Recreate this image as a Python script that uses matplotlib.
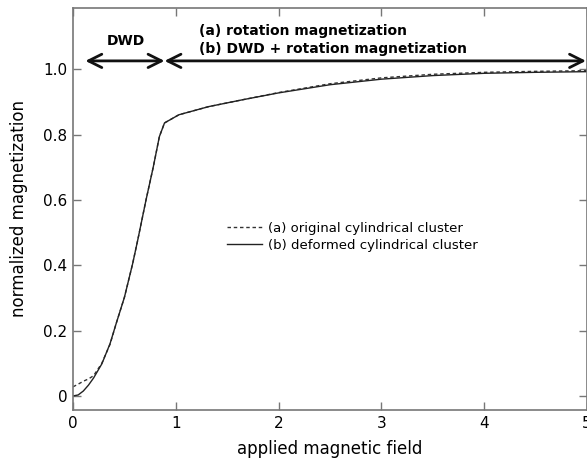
import matplotlib
matplotlib.use('Agg')
from matplotlib import pyplot as plt

# applied field values and normalized magnetization
field = [0, 0.05, 0.1, 0.15, 0.2, 0.28, 0.36, 0.42, 0.5, 0.58, 0.63, 0.71, 0.78,
         0.84, 0.89, 1.03, 1.32, 1.65, 2.0, 2.5, 3.0, 3.5, 4.0, 4.5, 5.0]
original = [0.028, 0.036, 0.045, 0.052, 0.062, 0.100, 0.158, 0.222, 0.302, 0.405,
            0.478, 0.600, 0.700, 0.794, 0.836, 0.861, 0.886, 0.907, 0.929, 0.956,
            0.974, 0.985, 0.991, 0.994, 0.996]
deformed = [0.0, 0.003, 0.015, 0.033, 0.055, 0.098, 0.160, 0.222, 0.302, 0.405,
            0.478, 0.600, 0.700, 0.794, 0.836, 0.861, 0.886, 0.907, 0.928, 0.953,
            0.970, 0.981, 0.988, 0.991, 0.993]
labels = ['(a) original cylindrical cluster', '(b) deformed cylindrical cluster']

fig = plt.figure(figsize=(5.87, 4.59), dpi=100)
ax = fig.add_axes([0.1244, 0.1068, 0.8756, 0.8758])

ax.plot(field, original, color='#333333', lw=1.0, ls=(0, (2.5, 2)), label=labels[0])
ax.plot(field, deformed, color='#222222', lw=1.0, label=labels[1])

ax.set_xlim(0, 5)
ax.set_ylim(-0.043, 1.188)
ax.set_xticks([0, 1, 2, 3, 4, 5])
ax.set_yticks([0, 0.2, 0.4, 0.6, 0.8, 1.0])
ax.set_yticklabels(['0', '0.2', '0.4', '0.6', '0.8', '1.0'])
ax.tick_params(direction='in', top=True, right=True, length=6, width=1,
               color='#777777', labelsize=11, pad=4)
for s in ax.spines.values():
    s.set_color('#777777')
    s.set_linewidth(1.2)

ax.set_xlabel('applied magnetic field', fontsize=12, labelpad=7)
ax.set_ylabel('normalized magnetization', fontsize=12, labelpad=11)

# region arrows
arr = dict(arrowstyle='<->', color='#111111', lw=2, mutation_scale=24,
           shrinkA=0, shrinkB=0)
ax.annotate('', xy=(0.12, 1.026), xytext=(0.89, 1.026), arrowprops=arr)
ax.annotate('', xy=(0.89, 1.026), xytext=(4.99, 1.026), arrowprops=arr,
            annotation_clip=False)
ax.text(0.51, 1.065, 'DWD', ha='center', va='bottom', fontsize=10, weight='bold')
ax.text(1.23, 1.095, '(a) rotation magnetization', ha='left', va='bottom',
        fontsize=10, weight='bold')
ax.text(1.23, 1.04, '(b) DWD + rotation magnetization', ha='left', va='bottom',
        fontsize=10, weight='bold')

ax.legend(loc='upper left', bbox_to_anchor=(0.30, 0.468), frameon=False,
          fontsize=9.5, handlelength=2.6, handletextpad=0.5, borderpad=0,
          borderaxespad=0, labelspacing=0.3)

plt.savefig('out.png', dpi=100)
